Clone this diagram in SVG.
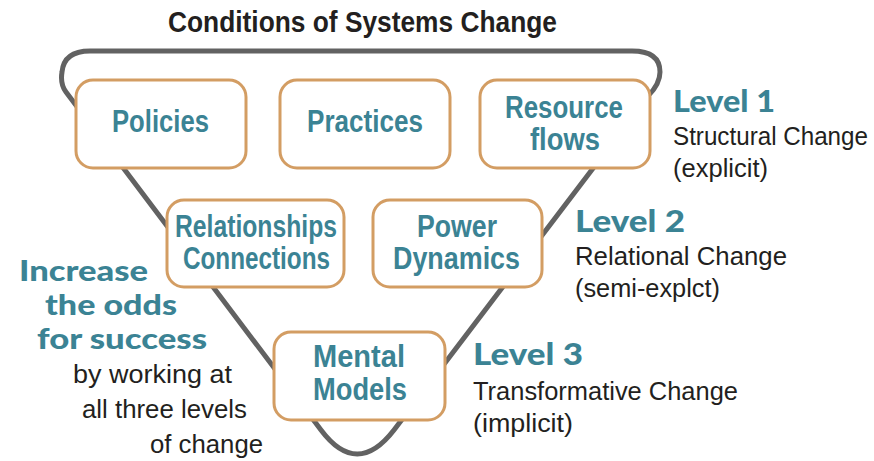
<svg xmlns="http://www.w3.org/2000/svg" width="874" height="461" viewBox="0 0 874 461">
<style>
.box{fill:#ffffff;stroke:#d39d63;stroke-width:3}
.lbl{font-family:"Liberation Sans",Arial,sans-serif;font-weight:bold;font-size:31px;fill:#3b8394;text-anchor:middle}
.lvl{font-family:Lato,"Liberation Sans",sans-serif;font-weight:900;font-size:30px;fill:#3b8394}
.inc{font-family:Lato,"Liberation Sans",sans-serif;font-weight:900;font-size:29px;fill:#3b8394}
.lt{font-family:"Liberation Sans Narrow","Liberation Sans",sans-serif;font-size:25px;fill:#231f20}
.title{font-family:"Liberation Sans",Arial,sans-serif;font-weight:bold;font-size:29px;fill:#231f20}
.outline{fill:none;stroke:#626262;stroke-width:5;stroke-linejoin:round;stroke-linecap:round}
</style>
<text class="title" x="168" y="32" textLength="389" lengthAdjust="spacingAndGlyphs">Conditions of Systems Change</text>
<g id="connectors">
<path class="outline" d="M 321,430 L 66,92 Q 60,84 62,72 Q 64,51 90,51 L 632,51 Q 660,51 660,72 Q 660,84 648,96 L 394,430 Q 357,478 321,430 Z"/>
</g>
<g id="policies">
<rect class="box" x="76" y="80" width="170" height="88" rx="17"/>
<text class="lbl" x="160.5" y="132" textLength="97" lengthAdjust="spacingAndGlyphs">Policies</text>
</g>
<g id="practices">
<rect class="box" x="280" y="80" width="170" height="88" rx="17"/>
<text class="lbl" x="365" y="132" textLength="116" lengthAdjust="spacingAndGlyphs">Practices</text>
</g>
<g id="resource-flows">
<rect class="box" x="480" y="80" width="170" height="88" rx="17"/>
<text class="lbl" x="564" y="118" textLength="118" lengthAdjust="spacingAndGlyphs">Resource</text>
<text class="lbl" x="565" y="150" textLength="70" lengthAdjust="spacingAndGlyphs">flows</text>
</g>
<g id="relationships">
<rect class="box" x="167" y="200" width="177" height="87" rx="17"/>
<text class="lbl" x="256" y="237" textLength="162" lengthAdjust="spacingAndGlyphs">Relationships</text>
<text class="lbl" x="256.5" y="269" textLength="147" lengthAdjust="spacingAndGlyphs">Connections</text>
</g>
<g id="power-dynamics">
<rect class="box" x="373" y="200" width="169" height="87" rx="17"/>
<text class="lbl" x="457" y="237" textLength="80" lengthAdjust="spacingAndGlyphs">Power</text>
<text class="lbl" x="456.5" y="269" textLength="127" lengthAdjust="spacingAndGlyphs">Dynamics</text>
</g>
<g id="mental-models">
<rect class="box" x="274" y="332" width="171" height="88" rx="17"/>
<text class="lbl" x="359" y="367" textLength="92" lengthAdjust="spacingAndGlyphs">Mental</text>
<text class="lbl" x="360" y="400" textLength="94" lengthAdjust="spacingAndGlyphs">Models</text>
</g>
<g id="level1">
<text class="lvl" x="673" y="112" textLength="102" lengthAdjust="spacingAndGlyphs">Level 1</text>
<text class="lt" x="673" y="145" textLength="195" lengthAdjust="spacingAndGlyphs">Structural Change</text>
<text class="lt" x="673" y="177" textLength="95" lengthAdjust="spacingAndGlyphs">(explicit)</text>
</g>
<g id="level2">
<text class="lvl" x="575" y="232" textLength="110" lengthAdjust="spacingAndGlyphs">Level 2</text>
<text class="lt" x="575" y="265" textLength="212" lengthAdjust="spacingAndGlyphs">Relational Change</text>
<text class="lt" x="575" y="297" textLength="145" lengthAdjust="spacingAndGlyphs">(semi-explct)</text>
</g>
<g id="level3">
<text class="lvl" x="473" y="365" textLength="110" lengthAdjust="spacingAndGlyphs">Level 3</text>
<text class="lt" x="473" y="400" textLength="265" lengthAdjust="spacingAndGlyphs">Transformative Change</text>
<text class="lt" x="473" y="432" textLength="100" lengthAdjust="spacingAndGlyphs">(implicit)</text>
</g>
<g id="increase-odds">
<text class="inc" x="19" y="281" textLength="129" lengthAdjust="spacingAndGlyphs">Increase</text>
<text class="inc" x="45" y="315" textLength="132" lengthAdjust="spacingAndGlyphs">the odds</text>
<text class="inc" x="37" y="349" textLength="170" lengthAdjust="spacingAndGlyphs">for success</text>
<text class="lt" x="73" y="383" textLength="159" lengthAdjust="spacingAndGlyphs">by working at</text>
<text class="lt" x="82" y="418" textLength="165" lengthAdjust="spacingAndGlyphs">all three levels</text>
<text class="lt" x="150" y="453" textLength="113" lengthAdjust="spacingAndGlyphs">of change</text>
</g>
</svg>
